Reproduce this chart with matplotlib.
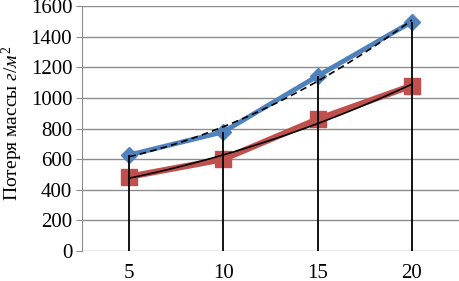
import numpy as np
import matplotlib.pyplot as plt

# time, min
x = np.array([5, 10, 15, 20])
# mass loss, g/m2
blue = np.array([627, 778, 1143, 1497])
red = np.array([485, 600, 860, 1080])
ticks_y = [0, 200, 400, 600, 800, 1000, 1200, 1400, 1600]

plt.rcParams['font.family'] = ['Liberation Serif', 'DejaVu Serif']
plt.rcParams['mathtext.fontset'] = 'custom'
plt.rcParams['mathtext.rm'] = 'Liberation Serif'
plt.rcParams['mathtext.it'] = 'Liberation Serif:italic'

fig = plt.figure(figsize=(4.59, 2.81), dpi=100)
ax = fig.add_axes([82/459, 30/281, 377/459, 245/281])

for t in ticks_y:
    ax.axhline(t, color='#8c8c8c', lw=1.0, zorder=1)

ax.plot(x, blue, color='#4F81BD', lw=3.5, marker='D', ms=8, zorder=3)
ax.plot(x, red, color='#C0504D', lw=4.5, marker='s', ms=11, zorder=3)

# quadratic trend lines
xs = np.linspace(5, 20, 100)
pb = np.polyfit(x, blue, 2)
pr = np.polyfit(x, red, 2)
ax.plot(xs, np.polyval(pb, xs), color='black', lw=1.2, ls=(0, (4, 2.5)), zorder=4)
ax.plot(xs, np.polyval(pr, xs), color='black', lw=1.2, zorder=4)

# drop lines
ax.vlines(x, 0, np.maximum(blue, red), color='black', lw=1.3, zorder=4)

ax.set_xlim(2.5, 22.5)
ax.set_ylim(0, 1600)
ax.set_xticks(x)
ax.set_xticklabels([str(v) for v in x])
ax.set_yticks(ticks_y)
for s in ['top', 'right', 'bottom']:
    ax.spines[s].set_visible(False)
ax.spines['left'].set_color('#8c8c8c')
ax.tick_params(axis='x', length=0, pad=9, labelsize=15)
ax.tick_params(axis='y', length=4, color='#8c8c8c', pad=3, labelsize=15)

fig.text(0.026, 0.56, r'Потеря массы $\mathit{г/м}^2$', rotation=90,
         ha='center', va='center', fontsize=14)

fig.savefig('out.png', dpi=100)
